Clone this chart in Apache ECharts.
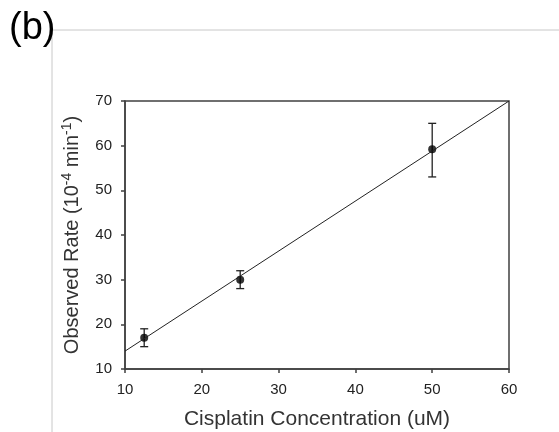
<!DOCTYPE html>
<html>
<head>
	<meta charset="utf-8" />
	<title>Observed Rate vs Cisplatin</title>
	<script src="https://cdn.jsdelivr.net/npm/echarts@6/dist/echarts.min.js"></script>
	<style>
		html, body { margin: 0; padding: 0; background: #fff; }
		#main { width: 559px; height: 432px; }
	</style>
</head>
<body>
	<div id="main"></div>
	<script>
		// measured points
		var conc = [12.5, 25, 50];
		var rate = [17, 30, 59.2];
		var errLow = [15, 28, 53];
		var errHigh = [19, 32, 65];
		// fitted line ends
		var fitX = [10, 60];
		var fitY = [14, 70];

		var myChart = echarts.init(document.getElementById('main'));
		var fontFam = 'Liberation Sans, Arial, sans-serif';
		var axisCol = '#404040';

		var option = {
			animation: false,
			backgroundColor: '#fff',
			textStyle: { fontFamily: fontFam },
			grid: {
				left: 125, right: 50, top: 101, bottom: 63,
				outerBoundsMode: 'none',
				show: true, borderColor: axisCol, borderWidth: 1.5
			},
			graphic: [
				// panel frame, light gray
				{ type: 'line', shape: { x1: 52, y1: 30, x2: 559, y2: 30 }, style: { stroke: '#c8c8c8', lineWidth: 1 } },
				{ type: 'line', shape: { x1: 52, y1: 30, x2: 52, y2: 432 }, style: { stroke: '#c8c8c8', lineWidth: 1 } },
				{ type: 'text', left: 9, top: 10, style: { text: '(b)', font: '38px ' + fontFam, fill: '#000' } }
			],
			xAxis: {
				type: 'value', min: 10, max: 60, interval: 10,
				name: 'Cisplatin Concentration (uM)',
				nameLocation: 'middle', nameGap: 40,
				nameTextStyle: { fontSize: 21, color: '#333' },
				axisLine: { lineStyle: { color: axisCol, width: 1.5 } },
				axisTick: { length: 4, lineStyle: { color: axisCol, width: 1.5 } },
				axisLabel: { fontSize: 15, color: '#222', margin: 13 },
				splitLine: { show: false }
			},
			yAxis: {
				type: 'value', min: 10, max: 70, interval: 10,
				name: '{a|Observed Rate (10}{s|-4}{a| min}{s|-1}{a|)}',
				nameLocation: 'middle', nameGap: 40, nameRotate: 90,
				nameTextStyle: {
					color: '#333',
					rich: {
						a: { fontSize: 20, color: '#333', fontFamily: fontFam, lineHeight: 24 },
						s: { fontSize: 14, color: '#333', fontFamily: fontFam, verticalAlign: 'top', lineHeight: 24, padding: [0, 0, 10, 0] }
					}
				},
				axisLine: { lineStyle: { color: axisCol, width: 1.5 } },
				axisTick: { length: 4, lineStyle: { color: axisCol, width: 1.5 } },
				axisLabel: { fontSize: 15, color: '#222', margin: 13 },
				splitLine: { show: false }
			},
			series: [
				{
					type: 'line',
					data: fitX.map(function (x, i) { return [x, fitY[i]]; }),
					symbol: 'none',
					lineStyle: { color: '#222', width: 1 },
					silent: true
				},
				{
					type: 'custom',
					data: conc.map(function (x, i) { return [x, errLow[i], errHigh[i]]; }),
					renderItem: function (params, api) {
						var lo = api.coord([api.value(0), api.value(1)]);
						var hi = api.coord([api.value(0), api.value(2)]);
						var w = 4;
						var st = { stroke: '#222', lineWidth: 1.3 };
						return {
							type: 'group',
							children: [
								{ type: 'line', shape: { x1: lo[0], y1: lo[1], x2: hi[0], y2: hi[1] }, style: st },
								{ type: 'line', shape: { x1: lo[0] - w, y1: lo[1], x2: lo[0] + w, y2: lo[1] }, style: st },
								{ type: 'line', shape: { x1: hi[0] - w, y1: hi[1], x2: hi[0] + w, y2: hi[1] }, style: st }
							]
						};
					},
					encode: { x: 0, y: [1, 2] },
					silent: true
				},
				{
					type: 'scatter',
					data: conc.map(function (x, i) { return [x, rate[i]]; }),
					symbol: 'circle',
					symbolSize: 8,
					itemStyle: { color: '#000' }
				}
			]
		};

		myChart.setOption(option);
	</script>
</body>
</html>
